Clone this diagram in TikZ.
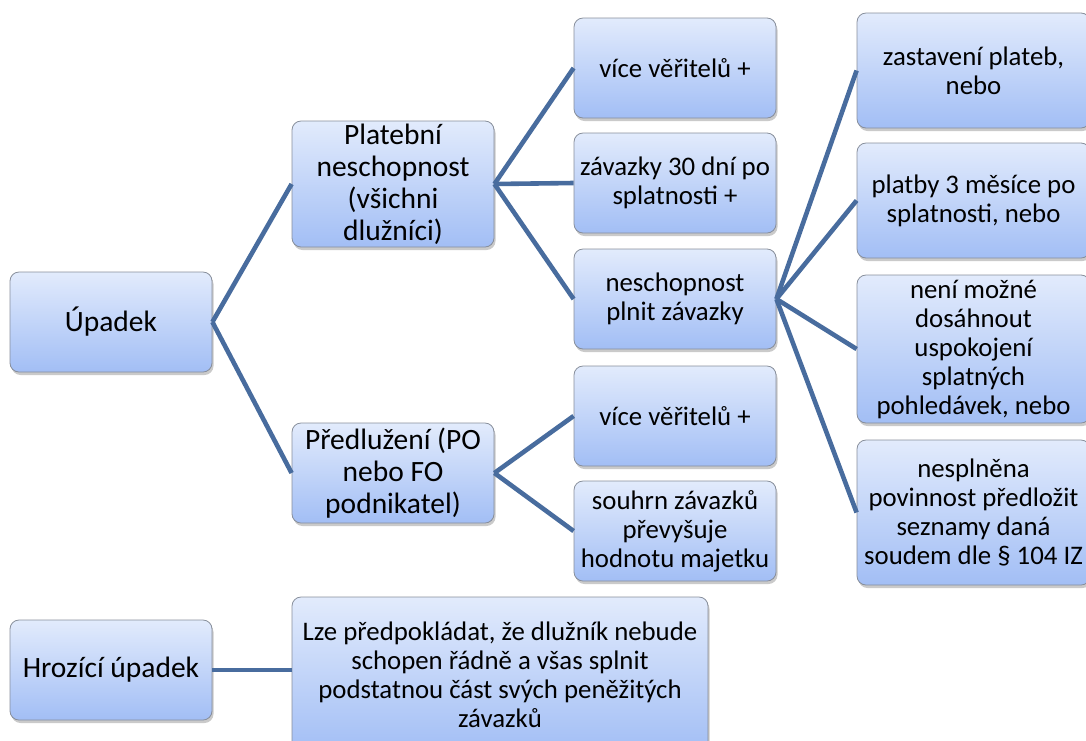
\documentclass[tikz,border=0pt]{standalone}
\usepackage{fontspec}
\setmainfont{Carlito}
\usetikzlibrary{shadows}
\definecolor{boxtop}{RGB}{226,235,252}
\definecolor{boxbot}{RGB}{162,190,245}
\definecolor{boxborder}{RGB}{135,142,155}
\definecolor{linkblue}{RGB}{72,108,158}
\tikzset{
  box/.style={draw=boxborder, line width=0.8pt, rounded corners=9pt,
    top color=boxtop, bottom color=boxbot, align=center, inner sep=0pt,
    text=black,
    drop shadow={shadow xshift=1.5pt, shadow yshift=-3pt, opacity=0.35, fill=black!60},
    font=\fontsize{26.8}{29}\selectfont},
  bigtext/.style={font=\fontsize{29.5}{32}\selectfont},
  sz/.style 2 args={minimum width=#1, minimum height=#2},
  link/.style={draw=linkblue, line width=4.6pt},
}
\begin{document}
\begin{tikzpicture}[x=1pt,y=-1pt]
\useasboundingbox (0,0) rectangle (1086,740);
% left column
\node[box, bigtext, sz={202pt}{100pt}] (up) at (111,322) {Úpadek};
\node[box, bigtext, sz={202pt}{100pt}] (hu) at (111,670) {Hrozící úpadek};
% second column
\node[box, bigtext, sz={202pt}{126pt}] (pn) at (393,184) {Platební\\neschopnost\\(všichni\\dlužníci)};
\node[box, bigtext, sz={202pt}{100pt}] (pr) at (393,473) {Předlužení (PO\\nebo FO\\podnikatel)};
\node[box, sz={416pt}{155pt}] (lze) at (500,674.5) {Lze předpokládat, že dlužník nebude\\schopen řádně a všas splnit\\podstatnou část svých peněžitých\\závazků};
% third column
\node[box, sz={202pt}{100pt}] (v1) at (675,68) {více věřitelů +};
\node[box, sz={202pt}{100pt}] (z30) at (675,183) {závazky 30 dní po\\splatnosti +};
\node[box, sz={202pt}{100pt}] (np) at (675,299) {neschopnost\\plnit závazky};
\node[box, sz={202pt}{100pt}] (v2) at (675,416) {více věřitelů +};
\node[box, sz={202pt}{100pt}] (sz) at (675,531) {souhrn závazků\\převyšuje\\hodnotu majetku};
% fourth column
\node[box, sz={233pt}{115pt}] (r1) at (973.5,70.5) {zastavení plateb,\\nebo};
\node[box, sz={233pt}{115pt}] (r2) at (973.5,200.5) {platby 3 měsíce po\\splatnosti, nebo};
\node[box, sz={233pt}{148pt}] (r3) at (973.5,349) {není možné\\dosáhnout\\uspokojení\\splatných\\pohledávek, nebo};
\node[box, sz={233pt}{145pt}] (r4) at (973.5,512.5) {nesplněna\\povinnost předložit\\seznamy daná\\soudem dle § 104 IZ};
% connectors
\draw[link] (up.east) -- (pn.west);
\draw[link] (up.east) -- (pr.west);
\draw[link] (pn.east) -- (v1.west);
\draw[link] (pn.east) -- (z30.west);
\draw[link] (pn.east) -- (np.west);
\draw[link] (pr.east) -- (v2.west);
\draw[link] (pr.east) -- (sz.west);
\draw[link] (np.east) -- (r1.west);
\draw[link] (np.east) -- (r2.west);
\draw[link] (np.east) -- (r3.west);
\draw[link] (np.east) -- (r4.west);
\draw[link] (hu.east) -- (hu.east -| lze.west);
\end{tikzpicture}
\end{document}
